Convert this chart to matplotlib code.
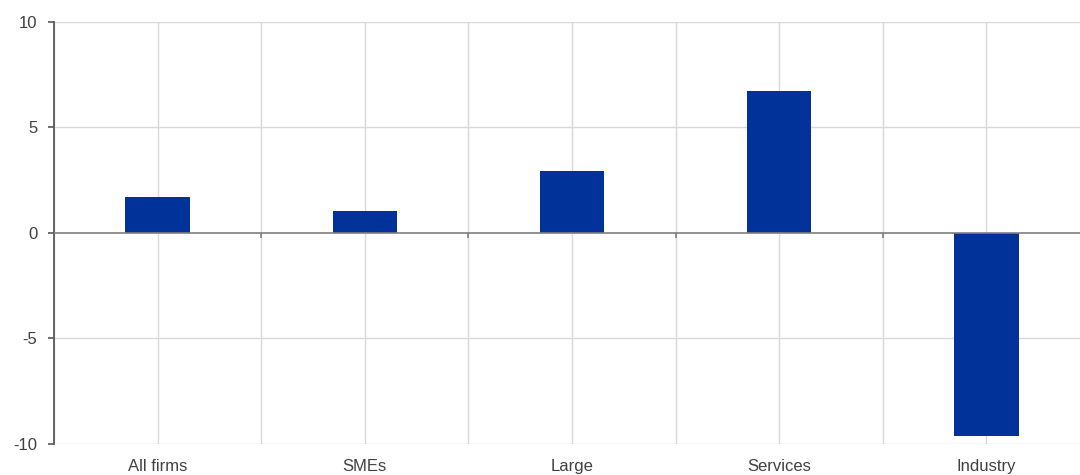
import matplotlib.pyplot as plt
import numpy as np

categories = ["All firms", "SMEs", "Large", "Services", "Industry"]
values = [1.7, 1.03, 2.93, 6.72, -9.62]

plt.rcParams['font.family'] = ['Liberation Sans', 'DejaVu Sans']

fig = plt.figure(figsize=(10.8, 4.75), dpi=100)
# axes run off the right edge, as in the original
ax = fig.add_axes([0.05, 0.0653, 0.9593, 0.8884])

x = np.arange(len(categories))
bounds = np.arange(len(categories) + 1) - 0.5

grid_c = "#d9d9d9"
for b in bounds:
    ax.axvline(b, color=grid_c, lw=1.0, zorder=0)
for xi in x:
    ax.axvline(xi, color=grid_c, lw=1.0, zorder=0)
for yv in [-10, -5, 5, 10]:
    ax.axhline(yv, color=grid_c, lw=1.0, zorder=0)

ax.bar(x, values, width=0.31, color="#003299", zorder=2)

ax.axhline(0, color="#7f7f7f", lw=1.2, zorder=3)
ax.vlines(bounds[1:-1], -0.22, 0, color="#7f7f7f", lw=1.2, zorder=3)

ax.set_xlim(-0.5, 4.5)
ax.set_ylim(-10, 10)
ax.set_yticks([-10, -5, 0, 5, 10])
ax.set_yticklabels(["-10", "-5", "0", "5", "10"])
ax.set_xticks(x)
ax.set_xticklabels(categories)

for s in ["top", "right", "bottom"]:
    ax.spines[s].set_visible(False)
ax.spines["left"].set_color("#595959")
ax.spines["left"].set_linewidth(1.3)

ax.tick_params(axis="y", direction="out", length=4, width=1.2, color="#595959",
               labelsize=12, labelcolor="#404040", pad=8)
ax.tick_params(axis="x", length=0, labelsize=12, labelcolor="#404040", pad=11)

fig.savefig("out.png", dpi=100)
